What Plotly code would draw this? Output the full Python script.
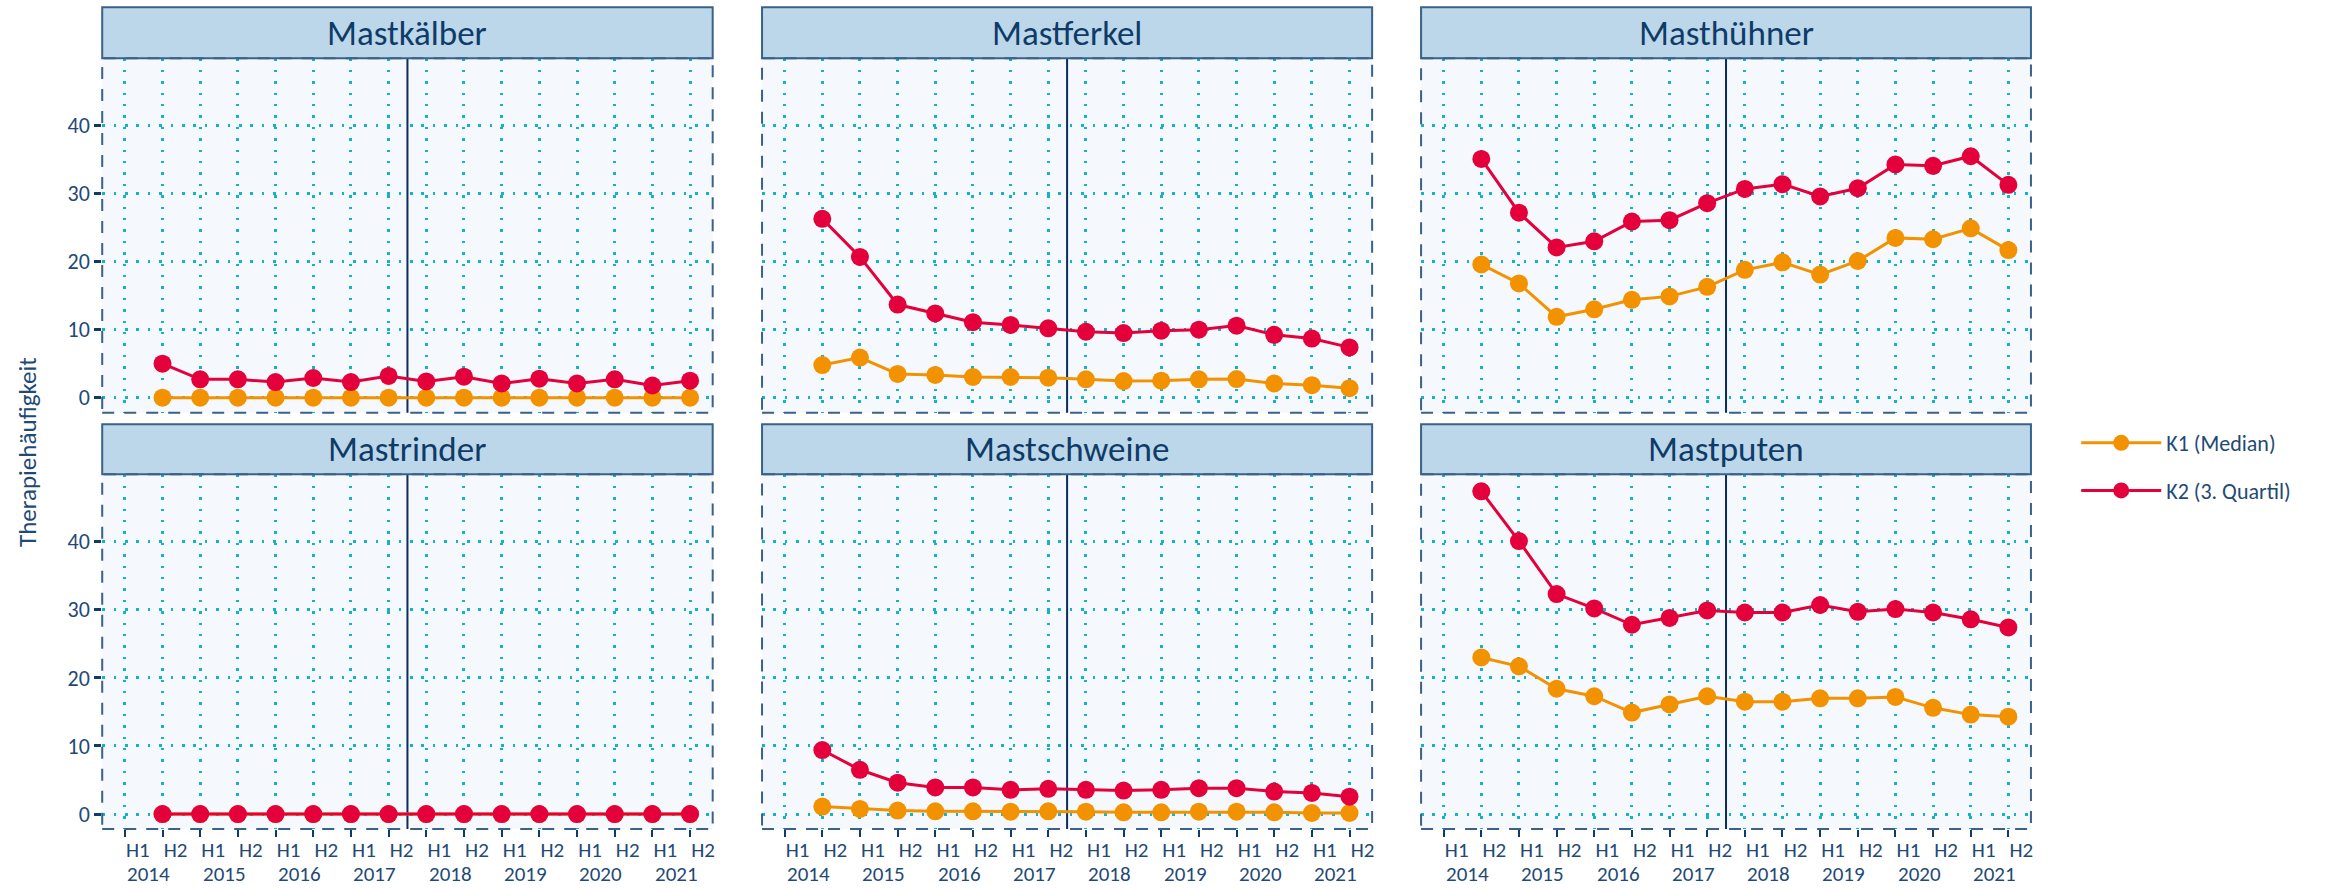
import plotly.graph_objects as go

# Half-year periods on the x axis
periods = ["H1", "H2", "H1", "H2", "H1", "H2", "H1", "H2",
           "H1", "H2", "H1", "H2", "H1", "H2", "H1", "H2"]
years = ["2014", "2015", "2016", "2017", "2018", "2019", "2020", "2021"]

panels = ["Mastkälber", "Mastferkel", "Masthühner",
          "Mastrinder", "Mastschweine", "Mastputen"]

# Values from H2 2014 to H2 2021 (15 half-years)
k1_mastkaelber = [0, 0, 0, 0, 0, 0, 0, 0, 0, 0, 0, 0, 0, 0, 0]
k2_mastkaelber = [5.0, 2.7, 2.7, 2.3, 2.9, 2.3, 3.2, 2.4, 3.1, 2.1, 2.8, 2.1, 2.7, 1.8, 2.5]

k1_mastferkel = [4.8, 5.9, 3.5, 3.35, 3.05, 3.05, 2.95, 2.7, 2.45, 2.5, 2.7, 2.75, 2.1, 1.85, 1.4]
k2_mastferkel = [26.3, 20.7, 13.7, 12.4, 11.1, 10.7, 10.2, 9.7, 9.5, 9.85, 10.0, 10.6, 9.25, 8.7, 7.4]

k1_masthuehner = [19.6, 16.8, 11.9, 13.0, 14.4, 14.9, 16.3, 18.8, 19.9, 18.1, 20.1, 23.5, 23.3, 24.9, 21.7]
k2_masthuehner = [35.1, 27.2, 22.1, 23.0, 25.9, 26.1, 28.6, 30.7, 31.4, 29.6, 30.8, 34.3, 34.1, 35.5, 31.3]

k1_mastrinder = [0, 0, 0, 0, 0, 0, 0, 0, 0, 0, 0, 0, 0, 0, 0]
k2_mastrinder = [0, 0, 0, 0, 0, 0, 0, 0, 0, 0, 0, 0, 0, 0, 0]

k1_mastschweine = [1.1, 0.75, 0.5, 0.4, 0.4, 0.35, 0.4, 0.35, 0.25, 0.25, 0.35, 0.35, 0.25, 0.15, 0.15]
k2_mastschweine = [9.4, 6.5, 4.6, 3.9, 3.9, 3.55, 3.7, 3.55, 3.45, 3.55, 3.8, 3.8, 3.3, 3.1, 2.55]

k1_mastputen = [23.0, 21.7, 18.4, 17.3, 14.9, 16.1, 17.3, 16.5, 16.5, 17.0, 17.0, 17.2, 15.6, 14.6, 14.3]
k2_mastputen = [47.4, 40.1, 32.3, 30.2, 27.8, 28.8, 29.9, 29.6, 29.6, 30.7, 29.7, 30.1, 29.6, 28.6, 27.4]

k1_series = [k1_mastkaelber, k1_mastferkel, k1_masthuehner,
             k1_mastrinder, k1_mastschweine, k1_mastputen]
k2_series = [k2_mastkaelber, k2_mastferkel, k2_masthuehner,
             k2_mastrinder, k2_mastschweine, k2_mastputen]

series_names = ["K1 (Median)", "K2 (3. Quartil)"]
series_colors = ["#f39200", "#e4003a"]

# ---- page geometry (pixels) ----
W, H = 2326, 888
col_px = [(102.3, 713.3), (762.7, 1373.3), (1422.3, 2032.7)]
row_plot_px = [(58.3, 412.7), (474.3, 829.0)]
row_strip_px = [(7.3, 58.3), (424.3, 474.3)]

FONT = "Carlito, Lato, sans-serif"
NAVY = "#0e3b68"
TICK_NAVY = "#1f4a75"
BORDER = "#3a6189"
GRID = "#14b3c6"


def px_x(v):
    return v / W


def px_y(v):
    return 1 - v / H


x_pos = list(range(len(periods)))
data_x = x_pos[1:]

fig = go.Figure()
layout_axes = {}
shapes = []
annotations = []

for i, name in enumerate(panels):
    r, c = divmod(i, 3)
    n = i + 1
    xa = "x" if n == 1 else f"x{n}"
    ya = "y" if n == 1 else f"y{n}"
    xkey = "xaxis" if n == 1 else f"xaxis{n}"
    ykey = "yaxis" if n == 1 else f"yaxis{n}"

    bottom = (r == 1)
    left = (c == 0)

    layout_axes[xkey] = dict(
        domain=[px_x(col_px[c][0]), px_x(col_px[c][1])],
        anchor=ya,
        range=[-0.6, 15.6],
        tickmode="array",
        tickvals=x_pos,
        ticktext=periods,
        showticklabels=bottom,
        ticks="outside" if bottom else "",
        ticklen=7, tickwidth=2, tickcolor=NAVY,
        ticklabelshift=13,
        ticklabelstandoff=-5,
        tickfont=dict(family=FONT, size=21, color=TICK_NAVY),
        showgrid=True, gridcolor=GRID, gridwidth=2.5, griddash="2.5px,8.9px",
        zeroline=False, showline=False, fixedrange=True,
    )
    layout_axes[ykey] = dict(
        domain=[px_y(row_plot_px[r][1]), px_y(row_plot_px[r][0])],
        anchor=xa,
        range=[-2.2, 49.9],
        tickmode="array",
        tickvals=[0, 10, 20, 30, 40],
        showticklabels=left,
        ticks="outside" if left else "",
        ticklen=7, tickwidth=2.5, tickcolor=NAVY,
        tickfont=dict(family=FONT, size=22, color=TICK_NAVY),
        showgrid=True, gridcolor=GRID, gridwidth=2.5, griddash="2.5px,8.9px",
        zeroline=False, showline=False, fixedrange=True,
    )

    for vals, sname, col in zip([k1_series[i], k2_series[i]],
                                series_names, series_colors):
        fig.add_trace(go.Scatter(
            x=data_x, y=vals, mode="lines+markers", name=sname,
            xaxis=xa, yaxis=ya,
            line=dict(color=col, width=3),
            marker=dict(color=col, size=18),
            legendgroup=sname, showlegend=(i == 0),
        ))

    # panel strip
    shapes.append(dict(
        type="rect", xref="paper", yref="paper",
        x0=px_x(col_px[c][0]), x1=px_x(col_px[c][1]),
        y0=px_y(row_strip_px[r][1]), y1=px_y(row_strip_px[r][0]),
        fillcolor="#bcd7e9", line=dict(color=BORDER, width=2), layer="above",
    ))
    annotations.append(dict(
        text=name, xref="paper", yref="paper",
        x=px_x((col_px[c][0] + col_px[c][1]) / 2),
        y=px_y((row_strip_px[r][0] + row_strip_px[r][1]) / 2),
        xanchor="center", yanchor="middle", showarrow=False,
        font=dict(family=FONT, size=35, color=NAVY),
    ))
    # dashed panel border
    shapes.append(dict(
        type="rect", xref=f"{xa} domain", yref=f"{ya} domain",
        x0=0, x1=1, y0=0, y1=1,
        line=dict(color=BORDER, width=2, dash="12px,10px"), layer="above",
    ))
    # separator between H2 2017 and H1 2018
    shapes.append(dict(
        type="line", xref=xa, yref=f"{ya} domain",
        x0=7.5, x1=7.5, y0=0, y1=1,
        line=dict(color="#0b2e59", width=2), layer="below",
    ))

    # year labels under the bottom row
    if bottom:
        for k, yr in enumerate(years):
            annotations.append(dict(
                text=yr, xref=xa, yref="paper",
                x=2 * k + 0.5, y=px_y(874),
                xanchor="center", yanchor="middle", xshift=5,
                showarrow=False,
                font=dict(family=FONT, size=21, color=TICK_NAVY),
            ))

annotations.append(dict(
    text="Therapiehäufigkeit", xref="paper", yref="paper",
    x=px_x(27), y=px_y(452), textangle=-90,
    xanchor="center", yanchor="middle", showarrow=False,
    font=dict(family=FONT, size=25, color=TICK_NAVY),
))

fig.update_layout(
    width=W, height=H,
    margin=dict(l=0, r=0, t=0, b=0),
    paper_bgcolor="white",
    plot_bgcolor="#f5f9fd",
    font=dict(family=FONT, color=TICK_NAVY),
    shapes=shapes,
    annotations=annotations,
    showlegend=True,
    legend=dict(
        x=px_x(2078), y=px_y(422), xanchor="left", yanchor="top",
        font=dict(family=FONT, size=22, color=TICK_NAVY),
        tracegroupgap=16, itemwidth=80, bgcolor="rgba(0,0,0,0)",
    ),
    **layout_axes,
)

fig.write_html("out.html")
